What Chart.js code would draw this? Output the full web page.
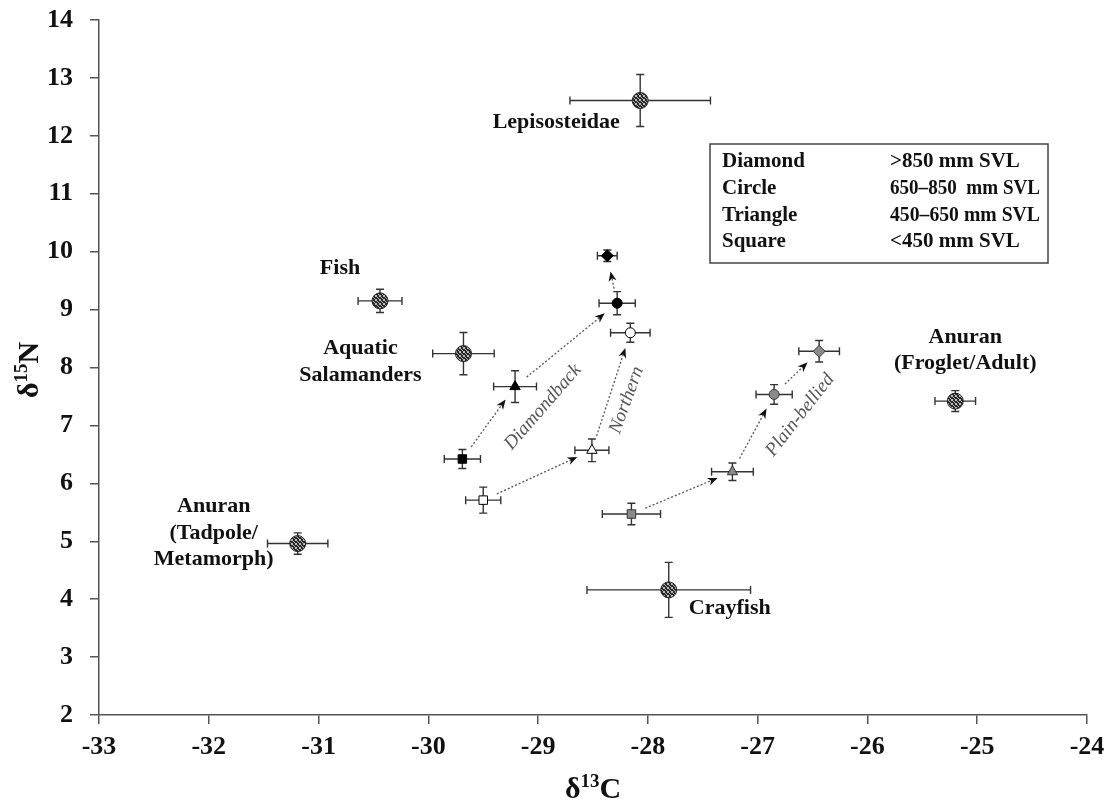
<!DOCTYPE html>
<html>
<head>
<meta charset="utf-8">
<title>δ13C vs δ15N</title>
<script src="https://cdn.jsdelivr.net/npm/chart.js@4.4.1/dist/chart.umd.min.js"></script>
<style>
  html, body { margin: 0; padding: 0; background: #fff; }
  #wrap { width: 1115px; height: 808px; }
</style>
</head>
<body>
<div id="wrap"><canvas id="chart" width="1115" height="808"></canvas></div>
<script>
// Stable isotope biplot: prey groups and three snake species by size class

// ---------- Data ----------
// Prey groups (hatched circles)
const preyNames = ["Lepisosteidae", "Fish", "Aquatic|Salamanders", "Anuran|(Tadpole/|Metamorph)", "Anuran|(Froglet/Adult)", "Crayfish"];
const preyC     = [-28.07, -30.44, -29.68, -31.19, -25.20, -27.81];
const preyN     = [12.61, 9.15, 8.24, 4.96, 7.42, 4.16];
const preyCErr  = [0.64, 0.20, 0.28, 0.275, 0.185, 0.745];
const preyNErr  = [0.45, 0.20, 0.365, 0.185, 0.18, 0.475];

// Snakes, ordered by size class: square, triangle, circle, diamond
const diamondbackC    = [-29.69, -29.21, -28.28, -28.37];
const diamondbackN    = [6.42, 7.67, 9.11, 9.93];
const diamondbackCErr = [0.165, 0.195, 0.165, 0.09];
const diamondbackNErr = [0.165, 0.275, 0.20, 0.10];

const northernC    = [-29.50, -28.51, -28.16];
const northernN    = [5.71, 6.57, 8.60];
const northernCErr = [0.16, 0.155, 0.18];
const northernNErr = [0.225, 0.195, 0.165];

const plainC    = [-28.15, -27.23, -26.85, -26.44];
const plainN    = [5.47, 6.20, 7.535, 8.28];
const plainCErr = [0.265, 0.19, 0.165, 0.185];
const plainNErr = [0.185, 0.15, 0.17, 0.185];

const legendShapes = ["Diamond", "Circle", "Triangle", "Square"];
const legendRanges = [">850 mm SVL", "650–850  mm SVL", "450–650 mm SVL", "<450 mm SVL"];

const xTicks = [-33, -32, -31, -30, -29, -28, -27, -26, -25, -24];
const yTicks = [2, 3, 4, 5, 6, 7, 8, 9, 10, 11, 12, 13, 14];

// ---------- Styling helpers ----------
const SERIF = "'Liberation Serif', 'Times New Roman', serif";
const styles = ["rect", "triangle", "circle", "rectRot"];
const radii  = [6, 6, 5, 6];

const hatch = (() => {
  const c = document.createElement("canvas");
  c.width = 4; c.height = 4;
  const g = c.getContext("2d");
  g.fillStyle = "#262626";
  g.fillRect(0, 0, 4, 4);
  g.fillStyle = "#bdbdbd";
  [[0, 0], [1, 1], [2, 2], [3, 3], [3, 0], [0, 3]].forEach(([a, b]) => g.fillRect(a, b, 1, 1));
  return g.createPattern(c, "repeat");
})();

const pts = (xs, ys) => xs.map((v, i) => ({ x: v, y: ys[i] }));

const snakeSet = (label, xs, ys, xe, ye, fill, edge, note) => ({
  label,
  data: pts(xs, ys),
  xErr: xe, yErr: ye,
  pointStyle: styles.slice(0, xs.length),
  pointRadius: radii.slice(0, xs.length),
  backgroundColor: fill,
  borderColor: edge,
  borderWidth: 1,
  arrows: true,
  note,
});

// ---------- Plugins ----------
const errorBars = {
  id: "errorBars",
  beforeDatasetsDraw(chart) {
    const { ctx, scales: { x, y } } = chart;
    const cap = 4;
    ctx.save();
    ctx.strokeStyle = "#333";
    ctx.lineWidth = 1.4;
    chart.data.datasets.forEach(ds => {
      ds.data.forEach((p, i) => {
        const px = x.getPixelForValue(p.x), py = y.getPixelForValue(p.y);
        const x0 = x.getPixelForValue(p.x - ds.xErr[i]), x1 = x.getPixelForValue(p.x + ds.xErr[i]);
        const y0 = y.getPixelForValue(p.y - ds.yErr[i]), y1 = y.getPixelForValue(p.y + ds.yErr[i]);
        ctx.beginPath();
        ctx.moveTo(x0, py); ctx.lineTo(x1, py);
        ctx.moveTo(x0, py - cap); ctx.lineTo(x0, py + cap);
        ctx.moveTo(x1, py - cap); ctx.lineTo(x1, py + cap);
        ctx.moveTo(px, y0); ctx.lineTo(px, y1);
        ctx.moveTo(px - cap, y0); ctx.lineTo(px + cap, y0);
        ctx.moveTo(px - cap, y1); ctx.lineTo(px + cap, y1);
        ctx.stroke();
      });
    });
    ctx.restore();
  },
};

function drawArrow(ctx, x0, y0, x1, y1, s0, s1) {
  const dx = x1 - x0, dy = y1 - y0, L = Math.hypot(dx, dy);
  const ux = dx / L, uy = dy / L;
  const ax = x0 + ux * s0, ay = y0 + uy * s0;
  const bx = x1 - ux * s1, by = y1 - uy * s1;
  const head = 10, hw = 4;
  ctx.setLineDash([2, 2]);
  ctx.strokeStyle = "#555";
  ctx.lineWidth = 1.3;
  ctx.beginPath();
  ctx.moveTo(ax, ay);
  ctx.lineTo(bx - ux * head * 0.7, by - uy * head * 0.7);
  ctx.stroke();
  ctx.setLineDash([]);
  ctx.fillStyle = "#111";
  ctx.beginPath();
  ctx.moveTo(bx, by);
  ctx.lineTo(bx - ux * head - uy * hw, by - uy * head + ux * hw);
  ctx.lineTo(bx - ux * head * 0.7, by - uy * head * 0.7);
  ctx.lineTo(bx - ux * head + uy * hw, by - uy * head - ux * hw);
  ctx.closePath();
  ctx.fill();
}

// pixel offsets of the prey labels from their markers
const preyLabelOffsets = [[-84, 22], [-40, -33], [-103, -5], [-84, -37], [10, -64], [61, 18]];

const annotations = {
  id: "annotations",
  afterDatasetsDraw(chart) {
    const { ctx, scales: { x, y } } = chart;
    ctx.save();

    // growth arrows + species names
    chart.data.datasets.filter(ds => ds.arrows).forEach(ds => {
      for (let i = 0; i < ds.data.length - 1; i++) {
        const a = ds.data[i], b = ds.data[i + 1];
        drawArrow(ctx, x.getPixelForValue(a.x), y.getPixelForValue(a.y),
                  x.getPixelForValue(b.x), y.getPixelForValue(b.y), 15, 16);
      }
      const n = ds.note;
      ctx.save();
      ctx.translate(x.getPixelForValue(n.x), y.getPixelForValue(n.y));
      ctx.rotate(n.angle * Math.PI / 180);
      ctx.font = `italic 19px ${SERIF}`;
      ctx.fillStyle = "#555";
      ctx.textAlign = "center";
      ctx.textBaseline = "middle";
      ctx.fillText(ds.label, 0, 0);
      ctx.restore();
    });

    // prey labels
    ctx.font = `bold 22px ${SERIF}`;
    ctx.fillStyle = "#111";
    ctx.textAlign = "center";
    ctx.textBaseline = "middle";
    preyNames.forEach((name, i) => {
      const px = x.getPixelForValue(preyC[i]) + preyLabelOffsets[i][0];
      const py = y.getPixelForValue(preyN[i]) + preyLabelOffsets[i][1];
      name.split("|").forEach((line, k) => ctx.fillText(line, px, py + k * 26.5));
    });

    // size class key
    const bx = 710, by = 144, bw = 338, bh = 119;
    ctx.fillStyle = "#fff";
    ctx.fillRect(bx, by, bw, bh);
    ctx.strokeStyle = "#444";
    ctx.lineWidth = 1.5;
    ctx.strokeRect(bx, by, bw, bh);
    ctx.fillStyle = "#111";
    ctx.font = `bold 21px ${SERIF}`;
    ctx.textAlign = "left";
    legendShapes.forEach((s, i) => {
      const ry = by + 18 + i * 26.6;
      ctx.fillText(s, bx + 12, ry);
      ctx.fillText(legendRanges[i], bx + 180, ry, 150);
    });

    ctx.restore();
  },
};

function supText(ctx, parts, cx, cy) {
  // parts: [text, size, raise]
  const widths = parts.map(([t, s]) => { ctx.font = `bold ${s}px ${SERIF}`; return ctx.measureText(t).width; });
  let xx = cx - widths.reduce((a, b) => a + b, 0) / 2;
  parts.forEach(([t, s, r], i) => {
    ctx.font = `bold ${s}px ${SERIF}`;
    ctx.fillText(t, xx, cy - r);
    xx += widths[i];
  });
}

const axisTitles = {
  id: "axisTitles",
  afterDraw(chart) {
    const { ctx } = chart;
    ctx.save();
    ctx.fillStyle = "#111";
    ctx.textAlign = "left";
    ctx.textBaseline = "alphabetic";
    supText(ctx, [["δ", 30, 0], ["13", 19, 11], ["C", 30, 0]], 593, 798);
    ctx.translate(38, 370);
    ctx.rotate(-Math.PI / 2);
    supText(ctx, [["δ", 30, 0], ["15", 19, 11], ["N", 30, 0]], 0, 0);
    ctx.restore();
  },
};

// ---------- Chart ----------
const axisCommon = {
  grid: { drawOnChartArea: false, drawTicks: true, tickLength: 9, color: "#555", lineWidth: 1.5 },
  border: { display: true, color: "#555", width: 1.5 },
};

new Chart(document.getElementById("chart"), {
  type: "scatter",
  data: {
    datasets: [
      {
        label: "Prey",
        data: pts(preyC, preyN),
        xErr: preyCErr, yErr: preyNErr,
        pointStyle: "circle",
        pointRadius: 8,
        backgroundColor: hatch,
        borderColor: "#222",
        borderWidth: 1,
      },
      snakeSet("Diamondback", diamondbackC, diamondbackN, diamondbackCErr, diamondbackNErr, "#000", "#000",
               { x: -28.956, y: 7.316, angle: -49 }),
      snakeSet("Northern", northernC, northernN, northernCErr, northernNErr, "#fff", "#000",
               { x: -28.193, y: 7.437, angle: -70 }),
      snakeSet("Plain-bellied", plainC, plainN, plainCErr, plainNErr, "#8a8a8a", "#333",
               { x: -26.613, y: 7.178, angle: -52 }),
    ],
  },
  options: {
    responsive: false,
    animation: false,
    layout: { padding: { top: 20, right: 28, left: 0, bottom: 0 } },
    plugins: { legend: { display: false }, tooltip: { enabled: false } },
    scales: {
      x: {
        ...axisCommon,
        type: "linear",
        min: xTicks[0], max: xTicks[xTicks.length - 1],
        afterBuildTicks: (s) => { s.ticks = xTicks.map(v => ({ value: v })); },
        ticks: { font: { family: SERIF, size: 26, weight: "bold" }, color: "#111", padding: 8 },
        afterFit: (s) => { s.height = 93; s.paddingLeft = 0; s.paddingRight = 0; },
      },
      y: {
        ...axisCommon,
        min: yTicks[0], max: yTicks[yTicks.length - 1],
        afterBuildTicks: (s) => { s.ticks = yTicks.map(v => ({ value: v })); },
        ticks: { font: { family: SERIF, size: 26, weight: "bold" }, color: "#111", padding: 17 },
        afterFit: (s) => { s.width = 99; s.paddingTop = 0; s.paddingBottom = 0; },
      },
    },
  },
  plugins: [errorBars, annotations, axisTitles],
});
</script>
</body>
</html>
